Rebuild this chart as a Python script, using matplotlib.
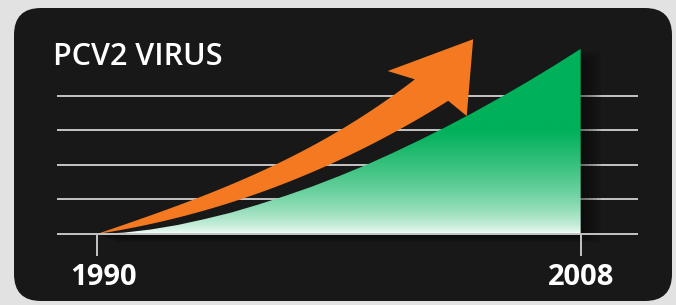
import numpy as np
import matplotlib
matplotlib.use("Agg")
import matplotlib.pyplot as plt
from matplotlib.patches import FancyBboxPatch, PathPatch, Polygon

# ---- data ----
years = list(range(1990, 2009))
virus_level = [0.0, 0.04, 0.13, 0.26, 0.43, 0.62, 0.85, 1.10, 1.37, 1.67,
               1.99, 2.34, 2.71, 3.10, 3.51, 3.94, 4.39, 4.86, 5.35]
grid_levels = [0, 1, 2, 3, 4]
tick_years = [1990, 2008]
tick_labels = ["1990", "2008"]
title = "PCV2 VIRUS"

# decorative arrow outline (data units)
arrow_upper_x = [1990.0, 1992.23, 1993.46, 1996.70, 1999.16, 2000.98, 2001.83]
arrow_upper_y = [0.0, 0.55, 1.01, 2.02, 3.03, 4.02, 4.47]
arrow_head_x = [2000.82, 2004.00, 2003.76, 2003.07]
arrow_head_y = [4.71, 5.63, 3.41, 3.85]
arrow_lower_x = [2003.07, 2001.65, 1998.41, 1995.32, 1992.23, 1990.0]
arrow_lower_y = [3.85, 3.03, 2.02, 1.01, 0.26, 0.0]


def smooth_edge(xs, ys, n=120):
    xs = np.asarray(xs, float)
    ys = np.asarray(ys, float)
    w = np.r_[10, np.ones(len(xs) - 2), 10]
    c = np.polyfit(xs - 1990, ys, 3, w=w)
    xd = np.linspace(xs[0], xs[-1], n)
    yd = np.polyval(c, xd - 1990)
    yd[0], yd[-1] = ys[0], ys[-1]
    return np.column_stack([xd, yd])


W, H = 676, 305
fig = plt.figure(figsize=(W / 100, H / 100), dpi=100)
fig.patch.set_facecolor("#e2e2e2")

# background panel
bg = fig.add_axes([0, 0, 1, 1])
bg.set_xlim(0, W)
bg.set_ylim(H, 0)
bg.axis("off")
r = 27
panel = FancyBboxPatch((14 + r, 8 + r), 658 - 2 * r, 293 - 2 * r,
                       boxstyle=f"round,pad={r}", fc="#181818", ec="none")
bg.add_patch(panel)

# data axes
px_per_year = 26.87
px_per_unit = 34.6
left_px, right_px = 57, 638
x0 = 1990 - (97 - left_px) / px_per_year
x1 = 1990 + (right_px - 97) / px_per_year
ylo, yhi = -1.0, 6.0
bottom_px = 234 + (0 - ylo) * px_per_unit
top_px = 234 - yhi * px_per_unit
ax = fig.add_axes([left_px / W, (H - bottom_px) / H,
                   (right_px - left_px) / W, (bottom_px - top_px) / H])
ax.set_xlim(x0, x1)
ax.set_ylim(ylo, yhi)
ax.axis("off")

for g in grid_levels:
    ax.axhline(g, color="#c4c4c4", lw=1.4, zorder=1 if g else 6)

# shadow of green area
xs = np.array(years, float)
ys = np.array(virus_level, float)
for k in range(5):
    off = 0.15 * (k + 1)
    poly = np.column_stack([np.r_[xs + off, xs[-1] + off, xs[0] + off],
                            np.r_[ys - off * 0.1, -0.05 - off * 0.25, -0.05 - off * 0.25]])
    ax.add_patch(Polygon(poly, closed=True, fc="black", ec="none", alpha=0.10, zorder=2))

# green gradient area
fill = ax.fill_between(years, virus_level, 0, color="none", lw=0, zorder=3)
green = np.array([0, 176, 90]) / 255.0
white = np.array([1.0, 1.0, 1.0])
ny = 300
yy = np.linspace(0, max(virus_level), ny)
f = np.clip(yy / 3.0, 0, 1) ** 0.6
cols = white[None, :] * (1 - f[:, None]) + green[None, :] * f[:, None]
img = np.repeat(cols[:, None, :], 2, axis=1)
im = ax.imshow(img, extent=[years[0], years[-1], 0, max(virus_level)],
               origin="lower", aspect="auto", zorder=3, interpolation="bilinear")
clip = PathPatch(fill.get_paths()[0], transform=ax.transData, fc="none", ec="none")
ax.add_patch(clip)
im.set_clip_path(clip)
ax.set_xlim(x0, x1)
ax.set_ylim(ylo, yhi)

# orange arrow
up = smooth_edge(arrow_upper_x, arrow_upper_y)
lo = smooth_edge(arrow_lower_x, arrow_lower_y)
head = np.column_stack([arrow_head_x, arrow_head_y])
outline = np.vstack([up, head[:-1], lo])
ax.add_patch(Polygon(outline, closed=True, fc="#f47920", ec="none", zorder=5))

# ticks and labels
for ty, tl in zip(tick_years, tick_labels):
    ax.plot([ty, ty], [0, -0.64], color="#c4c4c4", lw=1.4, zorder=6,
            solid_capstyle="butt", clip_on=False)
    ax.text(ty + (0.25 if ty == tick_years[0] else 0), -1.46, tl, ha="center",
            va="baseline", color="white", fontsize=21, fontweight="bold",
            family="Open Sans", clip_on=False)

fig.text(53 / W, (H - 65) / H, title, ha="left", va="baseline", color="white",
         fontsize=22, fontweight="semibold", family="Open Sans")

fig.savefig("out.png", dpi=100, facecolor=fig.get_facecolor())
